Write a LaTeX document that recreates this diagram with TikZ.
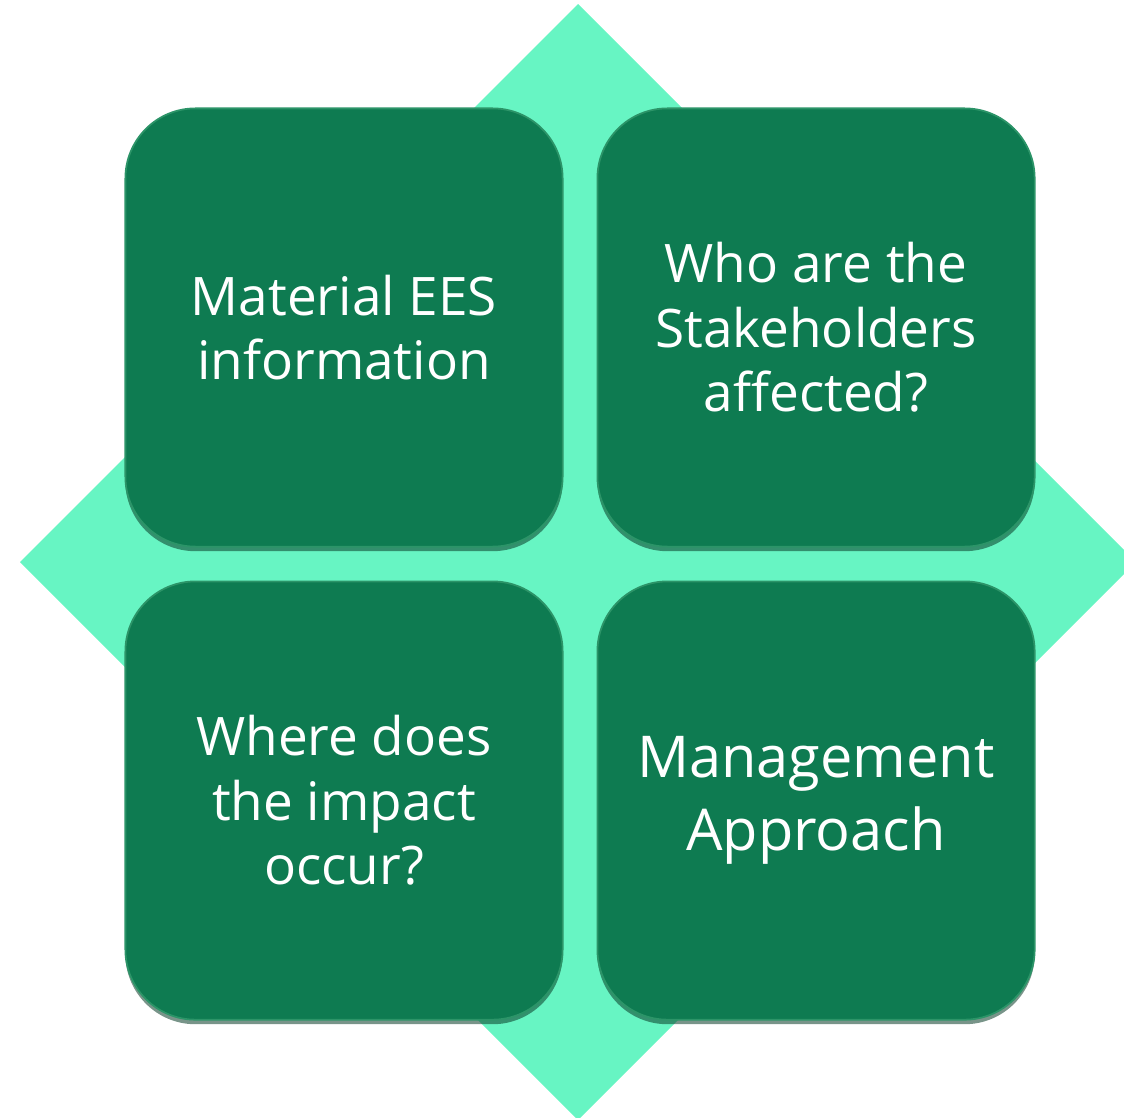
\documentclass[tikz,border=0pt]{standalone}
\usepackage{fontspec}
\setmainfont{Open Sans}
\usetikzlibrary{positioning,shadows}

\definecolor{tilegreen}{HTML}{0E7B51}
\definecolor{tilerim}{HTML}{2C9468}
\definecolor{tileshade}{HTML}{0A3D28}
\definecolor{diamondgreen}{HTML}{67F5C3}

\begin{document}
\begin{tikzpicture}[
                x=0.01cm, y=-0.01cm,
                tile/.style={rectangle, fill=tilegreen, draw=tilerim, line width=0.5pt, rounded corners=0.7cm,
                    minimum width=4.37cm, minimum height=4.38cm, align=center, text=white, inner sep=2pt,
                    drop shadow={shadow xshift=0pt, shadow yshift=-1.3pt, opacity=0.55, fill=tileshade}},
                tiletext/.style={font=\fontsize{15.1}{18.3}\selectfont},
                bigtext/.style={font=\fontsize{16.4}{20.6}\selectfont},
            ]
            \useasboundingbox (0,0) rectangle (1124,1118);
            \clip (0,0) rectangle (1124,1118);

            % backing diamond
            \fill[diamondgreen] (578,4) -- (1136,562) -- (578,1120) -- (20,562) -- cycle;

            % the four tiles
            \node[tile, tiletext] (material) at (344,327.5) {Material EES\\information};
            \node[tile, tiletext, right=0.33cm of material] (stakeholders) {Who are the\\Stakeholders\\affected?};
            \node[tile, tiletext, below=0.33cm of material] (location) {Where does\\the impact\\occur?};
            \node[tile, bigtext, right=0.33cm of location] (approach) {Management\\Approach};
        \end{tikzpicture}
\end{document}
